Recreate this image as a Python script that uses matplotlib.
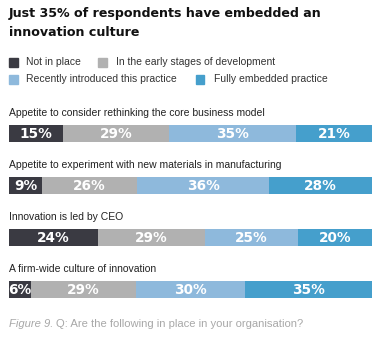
import matplotlib
matplotlib.use('Agg')
import matplotlib.pyplot as plt
from matplotlib.patches import Rectangle
import numpy as np

# survey data
statements = [
    'Appetite to consider rethinking the core business model',
    'Appetite to experiment with new materials in manufacturing',
    'Innovation is led by CEO',
    'A firm-wide culture of innovation',
]
stages = [
    'Not in place',
    'In the early stages of development',
    'Recently introduced this practice',
    'Fully embedded practice',
]
not_in_place = [15, 9, 24, 6]
early_stage = [29, 26, 29, 29]
recently_introduced = [35, 36, 25, 30]
fully_embedded = [21, 28, 20, 35]

colors = ['#3a3a42', '#b1b1b1', '#8eb9dc', '#459fcc']
body_font = ['Liberation Sans', 'DejaVu Sans']

W, H = 382, 342
fig = plt.figure(figsize=(W / 100, H / 100), dpi=100)
fig.patch.set_facecolor('white')


def fx(px):
    return px / W


def fy(py):
    return 1 - py / H


# title
fig.text(fx(9), fy(22.5), 'Just 35% of respondents have embedded an\ninnovation culture',
         fontsize=9.1, fontweight='bold', family='DejaVu Sans', color='#111111',
         va='center', ha='left', linespacing=1.6)

# legend, laid out in two rows
legend_rows = [[(0, 9), (1, 98)], [(2, 9), (3, 196)]]
for r, row in enumerate(legend_rows):
    yc = 62 + r * 17.5
    for idx, xpx in row:
        fig.patches.append(Rectangle((fx(xpx), fy(yc + 4.5)), fx(8.5), 8.5 / H,
                                     transform=fig.transFigure, color=colors[idx]))
        fig.text(fx(xpx + 17.5), fy(yc), stages[idx],
                 fontsize=7.45, family=body_font, color='#333333', va='center', ha='left')

# stacked bars, each row scaled to full width
ax = fig.add_axes([fx(9), 1 - 310 / H, fx(363), 210 / H])
series = np.array([not_in_place, early_stage, recently_introduced, fully_embedded], dtype=float)
totals = series.sum(axis=0)
ypos = np.arange(len(statements))
left = np.zeros(len(statements))
for k in range(len(stages)):
    share = series[k] / totals
    ax.barh(ypos, share, left=left, height=0.33, color=colors[k], edgecolor='none')
    for i in range(len(statements)):
        ax.text(left[i] + share[i] / 2, ypos[i] + 0.01, f'{int(series[k][i])}%',
                ha='center', va='center', color='white', fontsize=9.8,
                fontweight='bold', family='DejaVu Sans')
    left += share

for i, s in enumerate(statements):
    ax.text(0, ypos[i] - 0.40, s, ha='left', va='center', fontsize=7.45,
            family=body_font, color='#222222')

ax.set_xlim(0, 1)
ax.set_ylim((310 - 133.5) / 52, (100 - 133.5) / 52)
ax.axis('off')

# caption: italic figure number followed by the question
renderer = fig.canvas.get_renderer()
fig_num = fig.text(fx(9), fy(324), 'Figure 9.', fontsize=8.1, family=body_font,
                   style='italic', color='#a8a8a8', va='center', ha='left')
x_end = fig_num.get_window_extent(renderer).x1
fig.text(fx(x_end + 3), fy(324), 'Q: Are the following in place in your organisation?',
         fontsize=8.1, family=body_font, color='#a8a8a8', va='center', ha='left')

fig.savefig('out.png', dpi=100, facecolor='white')
